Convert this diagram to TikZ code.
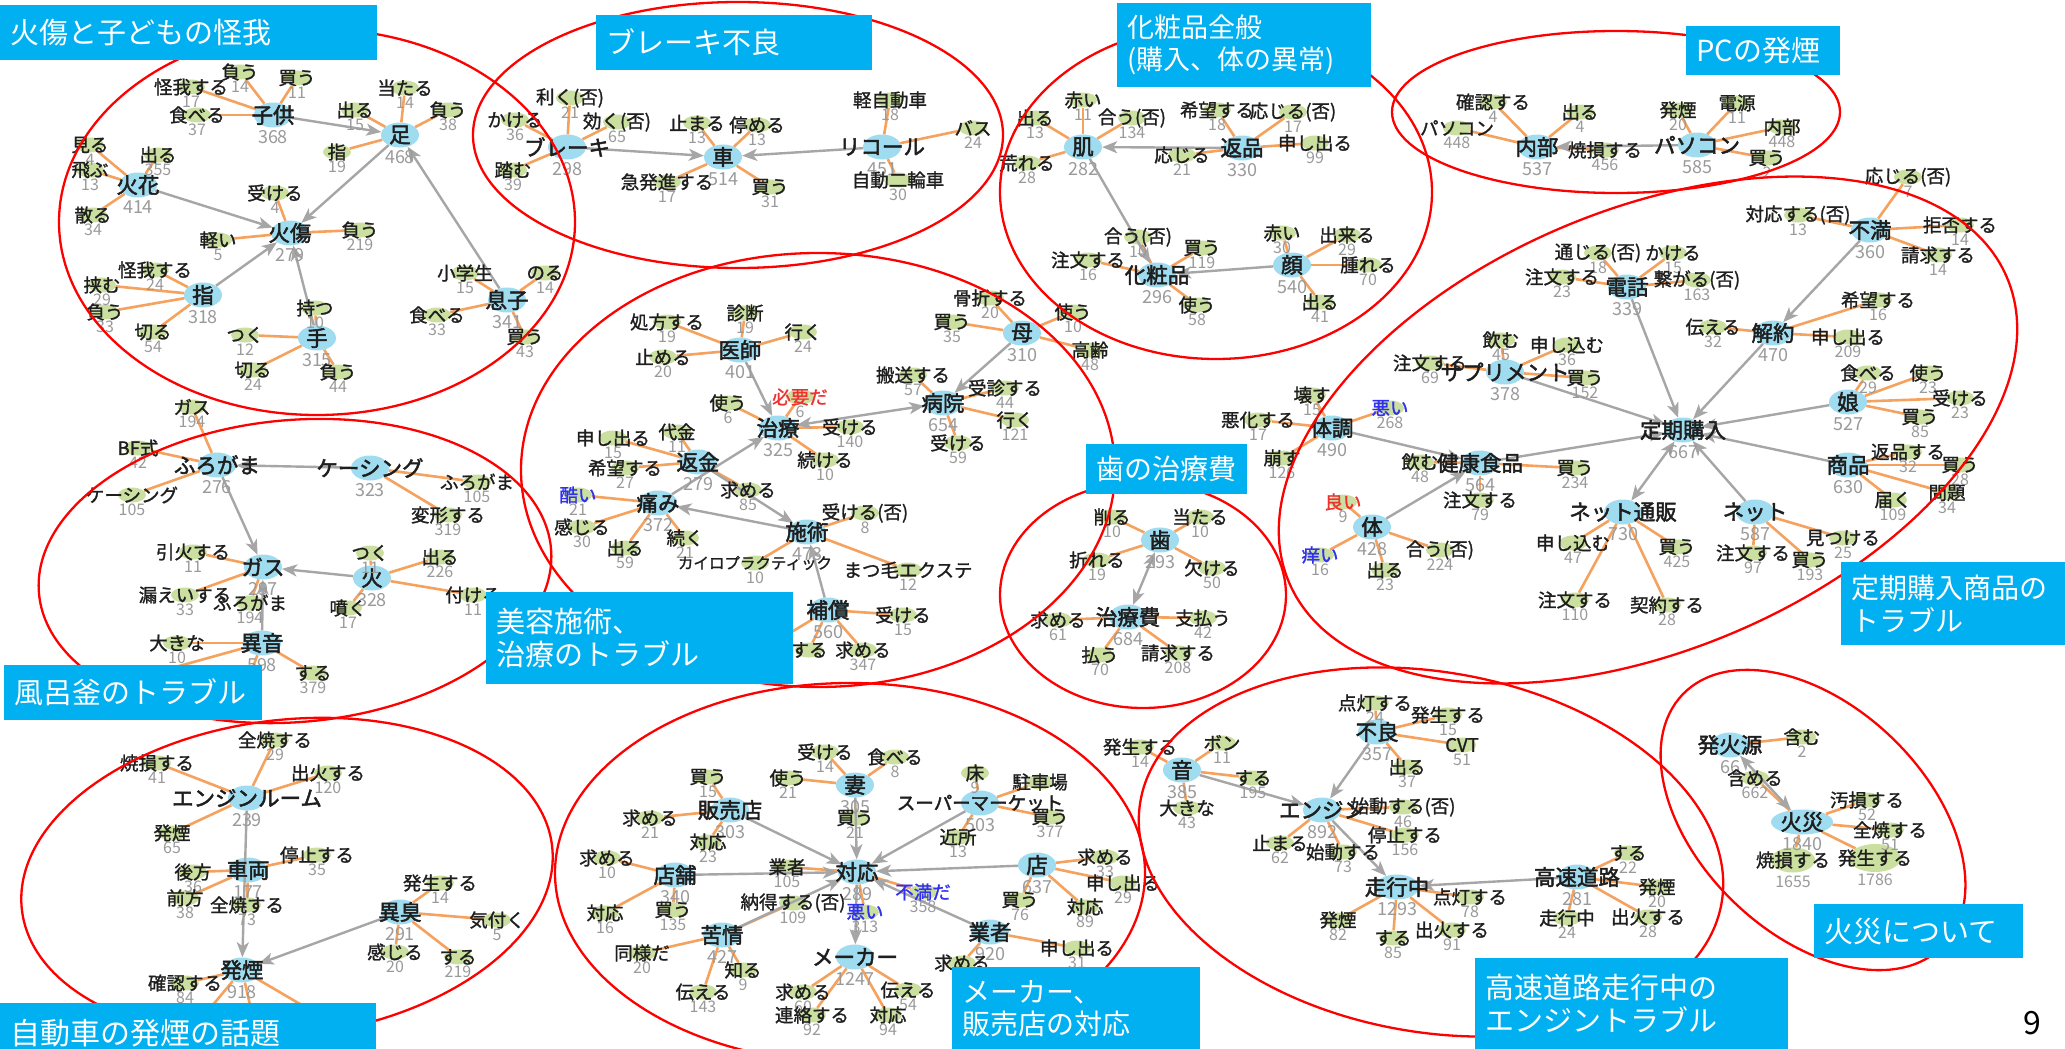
\documentclass[tikz,border=0pt]{standalone}
\usepackage{fontspec}
\setmainfont{Noto Sans CJK JP}
\newfontfamily\hubfont{Noto Sans CJK JP}[FakeBold=2.2]
\newfontfamily\leaffont{Noto Sans CJK JP}[FakeBold=1.3]
\usetikzlibrary{arrows.meta,shapes.geometric}
\definecolor{hubc}{HTML}{A0DCF0}
\definecolor{leafc}{HTML}{CBE0A0}
\definecolor{edgec}{HTML}{F5A25E}
\definecolor{arrc}{HTML}{A6A6A6}
\definecolor{cntc}{HTML}{9A9A9A}
\definecolor{boxc}{HTML}{00B0F0}
\definecolor{txtc}{HTML}{1E1E1E}
\definecolor{bluet}{HTML}{3030F0}
\definecolor{redt}{HTML}{F03030}
\tikzset{
  hubbg/.style={ellipse, fill=hubc, minimum width=38pt, minimum height=25pt, inner sep=0pt},
  leafbg/.style={ellipse, fill=leafc, minimum width=28pt, minimum height=15pt, inner sep=0pt},
  hubtxt/.style={inner sep=0pt, text=txtc, font=\hubfont\fontsize{21.5}{21.5}\selectfont},
  leaftxt/.style={inner sep=0pt, font=\leaffont\fontsize{18.5}{18.5}\selectfont},
  cnt/.style={inner sep=0pt, text=cntc, font=\fontsize{16}{16}\selectfont},
  hubcnt/.style={inner sep=0pt, text=cntc, font=\fontsize{18}{18}\selectfont},
  oe/.style={draw=edgec, line width=2.6pt},
  ga/.style={draw=arrc, line width=2.4pt, ->},
  gb/.style={draw=arrc, line width=2.4pt, <->},
  clus/.style={draw=red, line width=2.3pt},
  titlebox/.style={fill=boxc, text=white, anchor=north west, inner xsep=10pt, inner ysep=0pt, align=left, font=\fontsize{29}{33}\selectfont},
  >={Stealth[length=15pt,width=12pt,inset=4pt]}
}
\newcommand\hubn[6][38]{}
\newcommand\lfn[7][txtc]{}
\newcommand\hidn[4]{}
\newcommand\lfbig[8]{}
% pass 1: coloured ellipses
\newcommand\fillmode{%
  \renewcommand\hubn[6][38]{\node[hubbg,minimum width=##1pt] (##2) at (##3,##4) {};}%
  \renewcommand\lfn[7][txtc]{\node[leafbg] (##3) at (##4,##5) {};}%
  \renewcommand\hidn[4]{\coordinate (##2) at (##3,##4);}%
  \renewcommand\lfbig[8]{\node[leafbg,minimum width=##7pt,minimum height=##8pt] (##2) at (##3,##4) {};}%
}
% pass 2: orange word links
\newcommand\edgemode{%
  \renewcommand\hubn[6][38]{}%
  \renewcommand\lfn[7][txtc]{\draw[oe] (##2) -- (##3);}%
  \renewcommand\hidn[4]{\draw[oe] (##1) -- (##2);}%
  \renewcommand\lfbig[8]{\draw[oe] (##1) -- (##2);}%
}
% pass 3: words and counts
\newcommand\textmode{%
  \renewcommand\hubn[6][38]{\node[hubtxt] (##2-t) at (##3,##4) {##5};\node[hubcnt] (##2-c) at (##3,##4+22) {##6};}%
  \renewcommand\lfn[7][txtc]{\node[leaftxt,text=##1] (##3-t) at (##4,##5) {##6};\node[cnt] (##3-c) at (##4,##5+15) {##7};}%
  \renewcommand\hidn[4]{}%
  \renewcommand\lfbig[8]{\node[leaftxt,text=txtc] (##2-t) at (##3,##4) {##5};\node[cnt] (##2-c) at (##3,##4+22) {##6};}%
}
\newcommand\alldata{%
% ===== A: burns and child injuries
\hubn{A1}{273}{115}{子供}{368}
\lfn{A1}{a11}{240}{72}{負う}{14}
\lfn{A1}{a12}{297}{78}{買う}{11}
\lfn{A1}{a13}{191}{87}{怪我する}{17}
\lfn{A1}{a14}{197}{115}{食べる}{37}
\hubn{A2}{400}{135}{足}{468}
\lfn{A2}{a21}{405}{88}{当たる}{14}
\lfn{A2}{a22}{355}{110}{出る}{15}
\lfn{A2}{a23}{448}{110}{負う}{38}
\lfn{A2}{a24}{337}{152}{指}{19}
\hubn{A3}{138}{185}{火花}{414}
\lfn{A3}{a31}{90}{145}{見る}{4}
\lfn{A3}{a32}{90}{170}{飛ぶ}{13}
\lfn{A3}{a33}{158}{155}{出る}{355}
\lfn{A3}{a34}{93}{215}{散る}{34}
\hubn{A4}{290}{233}{火傷}{279}
\lfn{A4}{a41}{275}{193}{受ける}{4}
\lfn{A4}{a42}{218}{240}{軽い}{5}
\lfn{A4}{a43}{360}{230}{負う}{219}
\hubn{A5}{203}{295}{指}{318}
\lfn{A5}{a51}{155}{270}{怪我する}{24}
\lfn{A5}{a52}{102}{285}{挟む}{29}
\lfn{A5}{a53}{105}{312}{負う}{33}
\lfn{A5}{a54}{153}{332}{切る}{54}
\hubn{A6}{317}{338}{手}{315}
\lfn{A6}{a61}{315}{308}{持つ}{10}
\lfn{A6}{a62}{245}{335}{つく}{12}
\lfn{A6}{a63}{253}{370}{切る}{24}
\lfn{A6}{a64}{338}{372}{負う}{44}
\hubn{A7}{507}{300}{息子}{341}
\lfn{A7}{a71}{465}{273}{小学生}{15}
\lfn{A7}{a72}{437}{315}{食べる}{33}
\lfn{A7}{a73}{545}{273}{のる}{14}
\lfn{A7}{a74}{525}{337}{買う}{43}
% ===== B: brakes
\hubn{B1}{567}{147}{ブレーキ}{298}
\lfn{B1}{b11}{570}{98}{利く(否)}{21}
\lfn{B1}{b12}{617}{122}{効く(否)}{65}
\lfn{B1}{b13}{515}{120}{かける}{36}
\lfn{B1}{b14}{513}{170}{踏む}{39}
\hubn{B2}{723}{157}{車}{514}
\lfn{B2}{b21}{697}{123}{止まる}{13}
\lfn{B2}{b22}{757}{125}{停める}{13}
\lfn{B2}{b23}{667}{182}{急発進する}{17}
\lfn{B2}{b24}{770}{187}{買う}{31}
\hubn{B3}{882}{147}{リコール}{451}
\lfn{B3}{b31}{890}{100}{軽自動車}{18}
\lfn{B3}{b32}{973}{128}{バス}{24}
\lfn{B3}{b33}{898}{180}{自動二輪車}{30}
% ===== C: cosmetics
\hubn{C1}{1083}{147}{肌}{282}
\lfn{C1}{c11}{1035}{118}{出る}{13}
\lfn{C1}{c12}{1083}{100}{赤い}{11}
\lfn{C1}{c13}{1132}{118}{合う(否)}{134}
\lfn{C1}{c14}{1027}{163}{荒れる}{28}
\hubn{C2}{1242}{148}{返品}{330}
\lfn{C2}{c21}{1217}{110}{希望する}{18}
\lfn{C2}{c22}{1293}{112}{応じる(否)}{17}
\lfn{C2}{c23}{1182}{155}{応じる}{21}
\lfn{C2}{c24}{1315}{143}{申し出る}{99}
\hubn{C3}{1157}{275}{化粧品}{296}
\lfn{C3}{c31}{1138}{237}{合う(否)}{10}
\lfn{C3}{c32}{1202}{248}{買う}{119}
\lfn{C3}{c33}{1088}{260}{注文する}{16}
\lfn{C3}{c34}{1197}{305}{使う}{58}
\hubn{C4}{1292}{265}{顔}{540}
\lfn{C4}{c41}{1282}{233}{赤い}{30}
\lfn{C4}{c42}{1347}{235}{出来る}{29}
\lfn{C4}{c43}{1368}{265}{腫れる}{70}
\lfn{C4}{c44}{1320}{302}{出る}{41}
% ===== D: PC smoke
\hubn{D1}{1537}{147}{内部}{537}
\lfn{D1}{d11}{1493}{102}{確認する}{4}
\lfn{D1}{d12}{1580}{112}{出る}{4}
\lfn{D1}{d13}{1457}{128}{パソコン}{448}
\lfn{D1}{d14}{1605}{150}{焼損する}{456}
\hubn{D2}{1697}{145}{パソコン}{585}
\lfn{D2}{d21}{1678}{110}{発煙}{20}
\lfn{D2}{d22}{1737}{103}{電源}{11}
\lfn{D2}{d23}{1782}{127}{内部}{448}
\lfn{D2}{d24}{1767}{158}{買う}{2}
% ===== E: subscription purchases
\hubn{E1}{1683}{430}{定期購入}{667}
\hubn{E2}{1870}{230}{不満}{360}
\lfn{E2}{e21}{1908}{177}{応じる(否)}{7}
\lfn{E2}{e22}{1798}{215}{対応する(否)}{13}
\lfn{E2}{e23}{1960}{225}{拒否する}{14}
\lfn{E2}{e24}{1938}{255}{請求する}{14}
\hubn{E3}{1627}{287}{電話}{339}
\lfn{E3}{e31}{1598}{253}{通じる(否)}{18}
\lfn{E3}{e32}{1673}{253}{かける}{15}
\lfn{E3}{e33}{1562}{277}{注文する}{23}
\lfn{E3}{e34}{1697}{280}{繋がる(否)}{163}
\hubn{E4}{1773}{333}{解約}{470}
\lfn{E4}{e41}{1878}{300}{希望する}{16}
\lfn{E4}{e42}{1713}{327}{伝える}{32}
\lfn{E4}{e43}{1848}{337}{申し出る}{209}
\hubn{E5}{1505}{372}{サプリメント}{378}
\lfn{E5}{e51}{1501}{340}{飲む}{45}
\lfn{E5}{e52}{1567}{345}{申し込む}{36}
\lfn{E5}{e53}{1430}{363}{注文する}{69}
\lfn{E5}{e54}{1585}{378}{買う}{152}
\hubn{E6}{1848}{402}{娘}{527}
\lfn{E6}{e61}{1868}{373}{食べる}{29}
\lfn{E6}{e62}{1928}{373}{使う}{23}
\lfn{E6}{e63}{1960}{398}{受ける}{23}
\lfn{E6}{e64}{1920}{417}{買う}{85}
\hubn{E7}{1848}{465}{商品}{630}
\lfn{E7}{e71}{1908}{452}{返品する}{32}
\lfn{E7}{e72}{1960}{465}{買う}{28}
\lfn{E7}{e73}{1893}{500}{届く}{109}
\lfn{E7}{e74}{1947}{493}{問題}{34}
\hubn{E8}{1623}{512}{ネット通販}{730}
\lfn{E8}{e81}{1573}{543}{申し込む}{47}
\lfn{E8}{e82}{1677}{547}{買う}{425}
\lfn{E8}{e83}{1575}{600}{注文する}{110}
\lfn{E8}{e84}{1667}{605}{契約する}{28}
\hubn{E9}{1755}{512}{ネット}{587}
\lfn{E9}{e91}{1843}{538}{見つける}{25}
\lfn{E9}{e92}{1753}{553}{注文する}{97}
\lfn{E9}{e93}{1810}{560}{買う}{193}
\hubn{E10}{1480}{463}{健康食品}{564}
\lfn{E10}{e101}{1420}{462}{飲む}{48}
\lfn{E10}{e102}{1575}{468}{買う}{234}
\lfn{E10}{e103}{1480}{500}{注文する}{79}
\hubn{E11}{1332}{428}{体調}{490}
\lfn{E11}{e111}{1312}{395}{壊す}{15}
\lfn[bluet]{E11}{e112}{1390}{408}{悪い}{268}
\lfn{E11}{e113}{1258}{420}{悪化する}{17}
\lfn{E11}{e114}{1282}{458}{崩す}{126}
\hubn{E12}{1372}{527}{体}{428}
\lfn[redt]{E12}{e121}{1343}{502}{良い}{9}
\lfn[bluet]{E12}{e122}{1320}{555}{痒い}{16}
\lfn{E12}{e123}{1440}{550}{合う(否)}{224}
\lfn{E12}{e124}{1385}{570}{出る}{23}
% ===== F: dental fees
\hubn{F1}{1160}{540}{歯}{293}
\lfn{F1}{f11}{1112}{517}{削る}{10}
\lfn{F1}{f12}{1200}{517}{当たる}{10}
\lfn{F1}{f13}{1097}{560}{折れる}{19}
\lfn{F1}{f14}{1212}{568}{欠ける}{50}
\hubn{F2}{1128}{617}{治療費}{684}
\lfn{F2}{f21}{1058}{620}{求める}{61}
\lfn{F2}{f22}{1203}{618}{支払う}{42}
\lfn{F2}{f23}{1100}{655}{払う}{70}
\lfn{F2}{f24}{1178}{653}{請求する}{208}
% ===== G: beauty / treatment
\hubn{G1}{740}{350}{医師}{401}
\lfn{G1}{g11}{667}{322}{処方する}{19}
\lfn{G1}{g12}{745}{313}{診断}{19}
\lfn{G1}{g13}{803}{332}{行く}{24}
\lfn{G1}{g14}{663}{357}{止める}{20}
\hubn{G2}{1022}{333}{母}{310}
\lfn{G2}{g21}{990}{298}{骨折する}{20}
\lfn{G2}{g22}{952}{322}{買う}{35}
\lfn{G2}{g23}{1073}{312}{使う}{10}
\lfn{G2}{g24}{1090}{350}{高齢}{48}
\hubn{G3}{943}{403}{病院}{654}
\lfn{G3}{g31}{913}{375}{搬送する}{57}
\lfn{G3}{g32}{1005}{388}{受診する}{44}
\lfn{G3}{g33}{1015}{420}{行く}{121}
\lfn{G3}{g34}{958}{443}{受ける}{59}
\hubn{G4}{778}{428}{治療}{325}
\lfn[redt]{G4}{g41}{800}{397}{必要だ}{6}
\lfn{G4}{g42}{728}{403}{使う}{6}
\lfn{G4}{g43}{850}{427}{受ける}{140}
\lfn{G4}{g44}{825}{460}{続ける}{10}
\hubn{G5}{698}{462}{返金}{279}
\lfn{G5}{g51}{613}{438}{申し出る}{15}
\lfn{G5}{g52}{677}{432}{代金}{11}
\lfn{G5}{g53}{625}{468}{希望する}{27}
\lfn{G5}{g54}{748}{490}{求める}{85}
\hubn{G6}{658}{503}{痛み}{372}
\lfn[bluet]{G6}{g61}{578}{495}{酷い}{21}
\lfn{G6}{g62}{582}{527}{感じる}{30}
\lfn{G6}{g63}{625}{548}{出る}{59}
\lfn{G6}{g64}{685}{538}{続く}{21}
\hubn{G7}{807}{532}{施術}{473}
\lfn{G7}{g71}{865}{513}{受ける(否)}{8}
\lfn{G7}{g72}{755}{563}{\fontsize{15.5}{15.5}\selectfont カイロプラクティック}{10}
\lfn{G7}{g73}{908}{570}{まつ毛エクステ}{12}
\hubn{G8}{828}{610}{補償}{560}
\lfn{G8}{g81}{903}{615}{受ける}{15}
\lfn{G8}{g82}{863}{650}{求める}{347}
\lfn{G8}{g83}{809}{650}{する}{}
\hidn{G8}{g84}{770}{645}
% ===== H: bath boiler
\hubn{H1}{217}{465}{ふろがま}{276}
\lfn{H1}{h11}{192}{407}{ガス}{194}
\lfn{H1}{h12}{138}{448}{BF式}{42}
\lfn{H1}{h13}{132}{495}{ケーシング}{105}
\hubn{H2}{370}{468}{ケーシング}{323}
\lfn{H2}{h21}{477}{482}{ふろがま}{105}
\lfn{H2}{h22}{448}{515}{変形する}{319}
\hubn{H3}{263}{567}{ガス}{297}
\lfn{H3}{h31}{193}{552}{引火する}{11}
\lfn{H3}{h32}{185}{595}{漏えいする}{33}
\lfn{H3}{h33}{250}{603}{ふろがま}{194}
\hubn{H4}{372}{578}{火}{328}
\lfn{H4}{h41}{370}{553}{つく}{11}
\lfn{H4}{h42}{440}{557}{出る}{226}
\lfn{H4}{h43}{473}{595}{付ける}{11}
\lfn{H4}{h44}{348}{608}{噴く}{17}
\hubn{H5}{262}{643}{異音}{598}
\lfn{H5}{h51}{177}{643}{大きな}{10}
\lfn{H5}{h52}{313}{673}{する}{379}
\hidn{H5}{h53}{172}{668}
\hidn{H5}{h54}{250}{675}
% ===== I: car smoke
\hubn{I1}{247}{798}{エンジンルーム}{239}
\lfn{I1}{i11}{275}{740}{全焼する}{29}
\lfn{I1}{i12}{157}{763}{焼損する}{41}
\lfn{I1}{i13}{328}{773}{出火する}{120}
\lfn{I1}{i14}{172}{833}{発煙}{65}
\hubn{I2}{248}{870}{車両}{177}
\lfn{I2}{i21}{317}{855}{停止する}{35}
\lfn{I2}{i22}{193}{872}{後方}{36}
\lfn{I2}{i23}{185}{898}{前方}{38}
\lfn{I2}{i24}{247}{905}{全焼する}{73}
\hubn{I3}{242}{970}{発煙}{918}
\lfn{I3}{i31}{185}{983}{確認する}{84}
\hidn{I3}{i32}{207}{1012}
\hidn{I3}{i33}{253}{1018}
\hidn{I3}{i34}{317}{1014}
\hubn{I4}{400}{912}{異臭}{291}
\lfn{I4}{i41}{440}{883}{発生する}{14}
\lfn{I4}{i42}{497}{920}{気付く}{5}
\lfn{I4}{i43}{395}{952}{感じる}{20}
\lfn{I4}{i44}{458}{957}{する}{219}
% ===== J: makers / stores
\hubn{J1}{857}{872}{対応}{289}
\hubn{J2}{730}{810}{販売店}{303}
\lfn{J2}{j21}{708}{777}{買う}{15}
\lfn{J2}{j22}{650}{818}{求める}{21}
\lfn{J2}{j23}{708}{842}{対応}{23}
\hubn{J3}{855}{785}{妻}{305}
\lfn{J3}{j31}{825}{752}{受ける}{14}
\lfn{J3}{j32}{895}{757}{食べる}{8}
\lfn{J3}{j33}{788}{778}{使う}{21}
\lfn{J3}{j34}{855}{818}{買う}{21}
\hubn{J4}{980}{803}{\fontsize{18.5}{18.5}\selectfont スーパーマーケット}{503}
\lfn{J4}{j41}{975}{773}{床}{9}
\lfn{J4}{j42}{1040}{782}{駐車場}{}
\lfn{J4}{j43}{1050}{817}{買う}{377}
\lfn{J4}{j44}{958}{837}{近所}{13}
\hubn{J5}{675}{875}{店舗}{340}
\lfn{J5}{j51}{607}{858}{求める}{10}
\lfn{J5}{j52}{605}{913}{対応}{16}
\lfn{J5}{j53}{673}{910}{買う}{135}
\lfn{J1}{j11}{787}{867}{業者}{105}
\lfn[bluet]{J1}{j12}{865}{912}{悪い}{313}
\lfn[bluet]{J1}{j13}{923}{892}{不満だ}{358}
\hubn{J6}{722}{935}{苦情}{427}
\lfn{J6}{j64}{793}{903}{納得する(否)}{109}
\lfn{J6}{j61}{642}{953}{同様だ}{20}
\lfn{J6}{j62}{743}{970}{知る}{9}
\lfn{J6}{j63}{703}{992}{伝える}{143}
\hubn{J7}{855}{957}{メーカー}{1247}
\lfn{J7}{j71}{803}{992}{求める}{60}
\lfn{J7}{j72}{812}{1015}{連絡する}{92}
\lfn{J7}{j73}{908}{990}{伝える}{54}
\lfn{J7}{j74}{888}{1015}{対応}{94}
\hubn{J8}{1037}{865}{店}{637}
\lfn{J8}{j81}{1105}{857}{求める}{33}
\lfn{J8}{j82}{1123}{883}{申し出る}{29}
\lfn{J8}{j83}{1020}{900}{買う}{76}
\lfn{J8}{j84}{1085}{907}{対応}{89}
\hubn{J9}{990}{932}{業者}{920}
\lfn{J9}{j91}{1077}{948}{申し出る}{31}
\lfn{J9}{j92}{962}{963}{求める}{}
% ===== K: highway engine trouble
\hubn{K1}{1377}{732}{不良}{357}
\lfn{K1}{k11}{1375}{703}{点灯する}{24}
\lfn{K1}{k12}{1448}{715}{発生する}{15}
\lfn{K1}{k13}{1462}{745}{CVT}{51}
\lfn{K1}{k14}{1407}{767}{出る}{37}
\hubn{K2}{1182}{770}{音}{385}
\lfn{K2}{k21}{1140}{747}{発生する}{14}
\lfn{K2}{k22}{1222}{743}{ボン}{11}
\lfn{K2}{k23}{1253}{778}{する}{195}
\lfn{K2}{k24}{1187}{808}{大きな}{43}
\hubn{K3}{1322}{810}{エンジン}{892}
\lfn{K3}{k31}{1403}{807}{始動する(否)}{46}
\lfn{K3}{k32}{1405}{835}{停止する}{156}
\lfn{K3}{k33}{1280}{843}{止まる}{62}
\lfn{K3}{k34}{1343}{852}{始動する}{73}
\hubn[44]{K4}{1397}{887}{走行中}{1293}
\lfn{K4}{k41}{1470}{897}{点灯する}{78}
\lfn{K4}{k42}{1338}{920}{発煙}{82}
\lfn{K4}{k43}{1393}{938}{する}{85}
\lfn{K4}{k44}{1452}{930}{出火する}{91}
\hubn{K5}{1577}{877}{高速道路}{281}
\lfn{K5}{k51}{1628}{853}{する}{22}
\lfn{K5}{k52}{1657}{887}{発煙}{20}
\lfn{K5}{k53}{1567}{918}{走行中}{24}
\lfn{K5}{k54}{1648}{917}{出火する}{28}
% ===== L: fire
\hubn[62]{L1}{1802}{822}{火災}{1840}
\hubn{L2}{1730}{745}{発火源}{66}
\lfn{L2}{l21}{1802}{737}{含む}{2}
\lfn{L1}{l11}{1755}{778}{含める}{662}
\lfn{L1}{l12}{1867}{800}{汚損する}{52}
\lfn{L1}{l13}{1890}{830}{全焼する}{51}
\lfbig{L1}{l14}{1793}{860}{焼損する}{1655}{44}{25}
\lfbig{L1}{l15}{1875}{858}{発生する}{1786}{52}{28}
}
\begin{document}
\begin{tikzpicture}[x=1pt,y=-1pt]
\useasboundingbox (0,0) rectangle (2065,1049);
\fill[white] (0,0) rectangle (2065,1049);

% pass 1: ellipses
\fillmode
\alldata

% pass 2: orange links
\edgemode
\alldata

% gray arrows between topic words
\draw[ga] (A1) -- (A2);
\draw[ga] (A2) -- (A4);
\draw[ga] (A3) -- (A4);
\draw[ga] (A5) -- (A4);
\draw[ga] (A6) -- (A4);
\draw[ga] (A7) -- (A2);
\draw[ga] (B1) -- (B2);
\draw[ga] (B3) -- (B2);
\draw[ga] (C2) -- (C1);
\draw[ga] (C1) -- (C3);
\draw[ga] (C4) -- (C3);
\draw[ga] (D2) -- (D1);
\draw[ga] (E2) -- (E4);
\draw[ga] (E3) -- (E1);
\draw[ga] (E4) -- (E1);
\draw[ga] (E5) -- (E1);
\draw[ga] (E6) -- (E1);
\draw[ga] (E7) -- (E1);
\draw[ga] (E10) -- (E1);
\draw[ga] (E9) -- (E1);
\draw[gb] (E1) -- (E8);
\draw[ga] (E11) -- (E10);
\draw[ga] (E12) -- (E10);
\draw[gb] (F1) -- (F2);
\draw[ga] (G1) -- (G4);
\draw[ga] (G6) -- (G4);
\draw[gb] (G4) -- (G3);
\draw[ga] (G2) -- (G3);
\draw[ga] (G5) -- (G7);
\draw[ga] (G7) -- (G6);
\draw[ga] (G8) -- (G7);
\draw[ga] (H2) -- (H1);
\draw[ga] (H1) -- (H3);
\draw[ga] (H4) -- (H3);
\draw[ga] (H5) -- (H3);
\draw[ga] (I1) -- (I3);
\draw[ga] (I4) -- (I3);
\draw[ga] (J2) -- (J1);
\draw[ga] (J3) -- (J1);
\draw[ga] (J4) -- (J1);
\draw[ga] (J8) -- (J1);
\draw[ga] (J5) -- (J1);
\draw[ga] (J6) -- (J1);
\draw[ga] (J9) -- (J1);
\draw[ga] (J1) -- (J7);
\draw[ga] (K1) -- (K3);
\draw[ga] (K2) -- (K3);
\draw[ga] (K3) -- (K4);
\draw[ga] (K5) -- (K4);
\draw[gb] (L2) -- (L1);

% pass 3: words and counts
\textmode
\alldata

% red cluster outlines
\draw[clus] (317,222) ellipse [x radius=258, y radius=193];
\draw[clus] (738,135) ellipse [x radius=265, y radius=133];
\draw[clus] (1216,192) ellipse [x radius=216, y radius=167];
\draw[clus] (1616,112) ellipse [x radius=224, y radius=81];
\draw[clus, rotate around={23:(1648,430)}] (1648,430) ellipse [x radius=390, y radius=220];
\draw[clus] (1143,595) ellipse [x radius=143, y radius=113];
\draw[clus] (818,470) ellipse [x radius=297, y radius=217];
\draw[clus, rotate around={5:(295,571)}] (295,571) ellipse [x radius=257, y radius=151];
\draw[clus, rotate around={7:(287,878)}] (287,878) ellipse [x radius=267, y radius=158];
\draw[clus] (850,873) ellipse [x radius=295, y radius=190];
\draw[clus, rotate around={-10:(1431,852)}] (1431,852) ellipse [x radius=295, y radius=180];
\draw[clus, rotate around={-44:(1813,820)}] (1813,820) ellipse [x radius=181, y radius=114];

% title boxes
\node[titlebox, text width=357pt, minimum height=55pt] (t1) at (0,5) {火傷と子どもの怪我};
\node[titlebox, text width=256pt, minimum height=55pt] (t2) at (596,15) {ブレーキ不良};
\node[titlebox, text width=234pt, minimum height=84pt, font=\fontsize{27}{32}\selectfont] (t3) at (1117,3) {化粧品全般\\(購入、体の異常)};
\node[titlebox, text width=134pt, minimum height=49pt] (t4) at (1686,26) {PCの発煙};
\node[titlebox, text width=204pt, minimum height=83pt, font=\fontsize{28}{33}\selectfont] (t5) at (1841,562) {定期購入商品の\\トラブル};
\node[titlebox, text width=141pt, minimum height=50pt, font=\fontsize{28}{33}\selectfont] (t6) at (1086,444) {歯の治療費};
\node[titlebox, text width=287pt, minimum height=92pt] (t7) at (486,592) {美容施術、\\治療のトラブル};
\node[titlebox, text width=238pt, minimum height=55pt] (t8) at (4,665) {風呂釜のトラブル};
\node[titlebox, text width=356pt, minimum height=60pt, font=\fontsize{30}{33}\selectfont] (t9) at (0,1003) {自動車の発煙の話題};
\node[titlebox, text width=228pt, minimum height=82pt, font=\fontsize{28}{32}\selectfont] (t10) at (952,967) {メーカー、\\販売店の対応};
\node[titlebox, text width=293pt, minimum height=91pt] (t11) at (1475,958) {高速道路走行中の\\エンジントラブル};
\node[titlebox, text width=189pt, minimum height=54pt] (t12) at (1814,904) {火災について};
\node[inner sep=0pt, font=\fontsize{32}{32}\selectfont] (pg) at (2032,1023) {9};
\end{tikzpicture}
\end{document}
